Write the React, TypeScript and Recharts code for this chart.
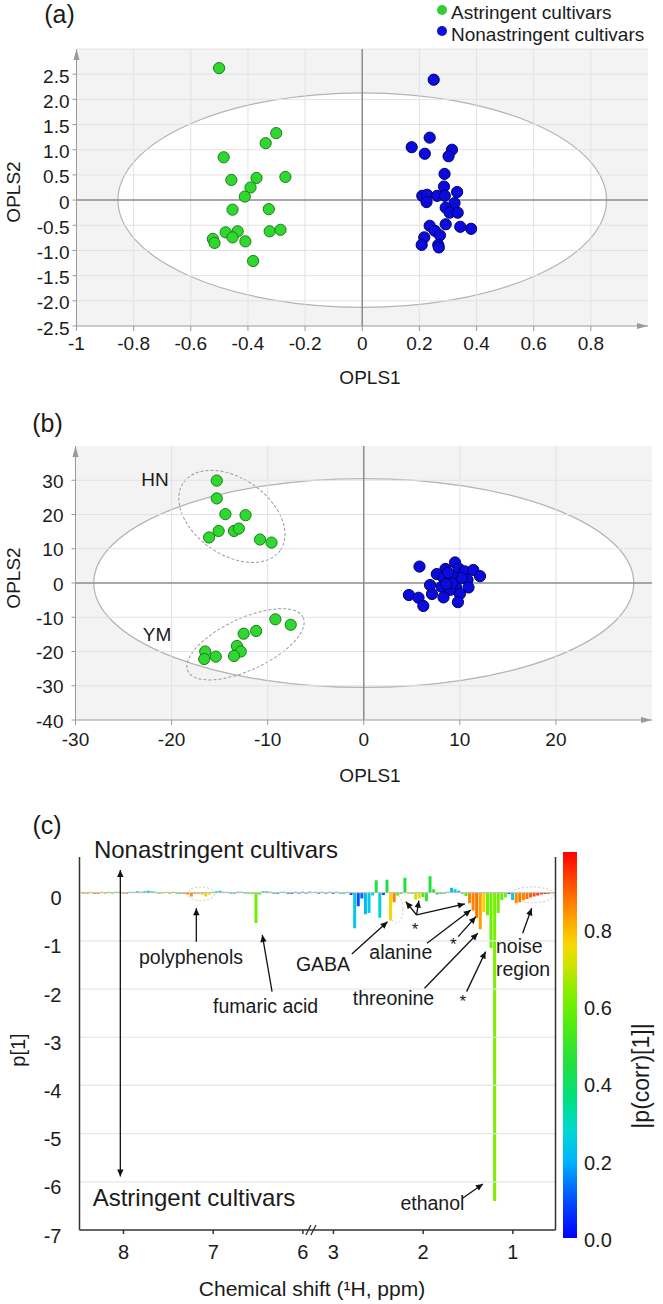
import React from "react";
import {
  Bar,
  BarChart,
  Cell,
  ReferenceArea,
  ReferenceDot,
  ReferenceLine,
  Scatter,
  ScatterChart,
  XAxis,
  YAxis,
} from "recharts";

const FONT = '"Liberation Sans", Arial, Helvetica, sans-serif';
const INK = "#1b1b1b";
const GREEN = "#2fd82f";
const GREEN_EDGE = "#1d7d1d";
const BLUE = "#0b0bdc";
const BLUE_EDGE = "#00006e";
const GRID = "#e2e2e2";
const PANEL_BG = "#f3f3f3";
const AXIS_GRAY = "#9a9a9a";
const ZERO_GRAY = "#8c8c8c";

// (a) OPLS-DA scores, all cultivars  [OPLS1, OPLS2]
const astringentA: [number, number][] = [
  [-0.501, 2.62], [-0.301, 1.33], [-0.338, 1.13], [-0.485, 0.85], [-0.458, 0.4],
  [-0.37, 0.44], [-0.269, 0.46], [-0.391, 0.25], [-0.411, 0.07], [-0.454, -0.19],
  [-0.327, -0.18], [-0.478, -0.64], [-0.436, -0.62], [-0.454, -0.74], [-0.324, -0.62],
  [-0.286, -0.59], [-0.523, -0.77], [-0.517, -0.85], [-0.409, -0.82], [-0.382, -1.21],
];
const nonastringentA: [number, number][] = [
  [0.25, 2.39], [0.236, 1.24], [0.173, 1.05], [0.219, 0.92], [0.314, 1.0],
  [0.302, 0.87], [0.288, 0.52], [0.286, 0.27], [0.332, 0.16], [0.21, 0.085],
  [0.227, 0.105], [0.262, 0.085], [0.289, 0.085], [0.225, -0.04], [0.323, -0.06],
  [0.292, -0.15], [0.306, -0.25], [0.334, -0.25], [0.236, -0.51], [0.292, -0.48],
  [0.254, -0.61], [0.272, -0.7], [0.343, -0.53], [0.381, -0.57], [0.217, -0.74],
  [0.208, -0.89], [0.266, -0.89], [0.268, -0.94],
];
const aXTicks = [-1, -0.8, -0.6, -0.4, -0.2, 0, 0.2, 0.4, 0.6, 0.8];
const aYTicks = [-2.5, -2, -1.5, -1, -0.5, 0, 0.5, 1, 1.5, 2, 2.5];
const aXDomain = [-1, 1];
const aYDomain = [-2.5, 3];
const aEllipse = { rx: 0.855, ry: 2.13 };

// (b) OPLS-DA scores with the two astringent groups
const hnGroupB: [number, number][] = [
  [-15.3, 29.9], [-15.3, 24.7], [-14.4, 20.1], [-12.3, 19.8], [-15.1, 15.2],
  [-16.1, 13.3], [-13.5, 15.2], [-13.0, 15.9], [-10.8, 12.7], [-9.6, 11.8],
];
const ymGroupB: [number, number][] = [
  [-9.2, -10.6], [-7.6, -12.2], [-11.2, -14.0], [-12.5, -14.8], [-13.2, -18.4],
  [-12.8, -20.0], [-16.5, -20.0], [-15.4, -21.5], [-13.5, -21.3], [-16.6, -22.2],
];
const nonastringentB: [number, number][] = [
  [5.8, 4.8], [9.5, 6.0], [8.5, 4.1], [7.6, 2.6], [9.9, 4.2], [10.5, 3.4],
  [11.4, 3.8], [12.1, 2.0], [9.4, 1.8], [10.8, 0.9], [8.3, 1.6], [6.9, -0.6],
  [8.1, -1.1], [9.6, -1.1], [10.9, -1.3], [9.0, -2.0], [7.1, -3.2], [10.0, -3.2],
  [4.7, -3.5], [5.7, -4.3], [8.3, -4.2], [6.2, -6.7], [9.8, -5.6], [9.2, -0.1],
  [8.8, 3.0], [10.2, 1.5], [8.6, -0.3],
];
const bXTicks = [-30, -20, -10, 0, 10, 20];
const bYTicks = [-40, -30, -20, -10, 0, 10, 20, 30];
const bXDomain = [-30, 30];
const bYDomain = [-40, 40];
const bEllipse = { rx: 28.1, ry: 30.5 };
const hnBox = { x: [-19.25, -8.2], y: [6.0, 32.9], angle: 35 };
const ymBox = { x: [-18.4, -6.2], y: [-28.3, -7.5], angle: -25 };

// (c) loadings p[1] coloured by |p(corr)[1]|
const aromaticShift = [
  8.44, 8.4, 8.36, 8.32, 8.28, 8.24, 8.2, 8.16, 8.12, 8.08, 8.04, 8.0, 7.96, 7.92, 7.88, 7.84,
  7.8, 7.76, 7.72, 7.68, 7.64, 7.6, 7.56, 7.52, 7.48, 7.44, 7.4, 7.36, 7.32, 7.28, 7.24, 7.2,
  7.16, 7.12, 7.08, 7.04, 7.0, 6.96, 6.92, 6.88, 6.84, 6.8, 6.76, 6.72, 6.68, 6.64, 6.6, 6.56,
  6.52, 6.48, 6.44, 6.4, 6.36, 6.32, 6.28, 6.24, 6.2, 6.16, 6.12, 6.08, 6.04, 6.0, 5.96, 5.92,
];
const aromaticLoading = [
  -0.02, -0.03, 0.02, -0.02, -0.03, 0.02, -0.02, 0.02, -0.02, 0.02, 0.02, -0.02, -0.02, 0.02, 0.02, 0.03,
  0.02, 0.03, 0.04, 0.03, 0.02, -0.02, -0.02, 0.02, -0.03, 0.02, -0.02, -0.02, -0.03, -0.04, -0.08, -0.03,
  -0.03, -0.04, -0.08, -0.04, 0.02, 0.03, 0.04, 0.02, 0.02, -0.02, -0.02, 0.02, 0.02, -0.02, -0.02, -0.03,
  -0.63, -0.04, 0.03, 0.03, 0.02, -0.02, -0.02, 0.02, 0.02, -0.02, -0.02, 0.02, -0.02, 0.02, -0.02, 0.02,
];
const aromaticCorr = [
  0.85, 0.8, 0.75, 0.9, 0.85, 0.7, 0.82, 0.55, 0.6, 0.35, 0.3, 0.85, 0.88, 0.6, 0.3, 0.25,
  0.45, 0.28, 0.22, 0.25, 0.3, 0.6, 0.78, 0.8, 0.8, 0.35, 0.5, 0.4, 0.85, 0.86, 0.85, 0.82,
  0.78, 0.8, 0.77, 0.75, 0.5, 0.35, 0.3, 0.45, 0.6, 0.3, 0.35, 0.2, 0.25, 0.55, 0.5, 0.6,
  0.6, 0.55, 0.35, 0.4, 0.25, 0.2, 0.15, 0.3, 0.3, 0.12, 0.1, 0.2, 0.2, 0.15, 0.3, 0.1,
];
const aliphaticShift = [
  3.2, 3.16, 3.12, 3.08, 3.04, 3.0, 2.96, 2.92, 2.88, 2.84, 2.8, 2.76, 2.72, 2.68, 2.64, 2.6,
  2.56, 2.52, 2.48, 2.44, 2.4, 2.36, 2.32, 2.28, 2.24, 2.2, 2.16, 2.12, 2.08, 2.04, 2.0, 1.96,
  1.92, 1.88, 1.84, 1.8, 1.76, 1.72, 1.68, 1.64, 1.6, 1.56, 1.52, 1.48, 1.44, 1.4, 1.36, 1.32,
  1.28, 1.24, 1.2, 1.16, 1.12, 1.08, 1.04, 1.0, 0.96, 0.92, 0.88, 0.84, 0.8, 0.76, 0.72, 0.68,
  0.64, 0.6, 0.56,
];
const aliphaticLoading = [
  0.02, -0.02, 0.02, -0.02, 0.02, -0.02, 0.02, -0.02, -0.02, 0.02, -0.05, -0.74, -0.28, -0.12, -0.45, -0.42,
  -0.06, 0.26, -0.52, -0.05, 0.27, -0.58, -0.2, -0.06, -0.02, 0.31, -0.03, -0.02, -0.14, -0.12, -0.09, -0.18,
  0.34, 0.07, -0.04, -0.03, -0.02, 0.02, 0.1, 0.07, 0.04, -0.02, -0.07, -0.22, -0.37, -0.52, -0.76, -0.4,
  -0.47, -1.15, -6.4, -0.42, -0.15, -0.1, -0.03, -0.15, -0.22, -0.2, -0.16, -0.13, -0.1, -0.08, -0.06, -0.04,
  -0.03, -0.02, -0.01,
];
const aliphaticCorr = [
  0.3, 0.15, 0.45, 0.2, 0.35, 0.1, 0.25, 0.4, 0.2, 0.3, 0.1, 0.25, 0.1, 0.12, 0.22, 0.25,
  0.3, 0.45, 0.27, 0.08, 0.45, 0.76, 0.86, 0.55, 0.4, 0.45, 0.75, 0.5, 0.7, 0.76, 0.55, 0.5,
  0.45, 0.5, 0.45, 0.5, 0.3, 0.25, 0.22, 0.25, 0.2, 0.4, 0.55, 0.86, 0.86, 0.88, 0.83, 0.77,
  0.6, 0.6, 0.62, 0.6, 0.58, 0.6, 0.1, 0.25, 0.85, 0.87, 0.86, 0.88, 0.9, 0.92, 0.94, 0.95,
  0.96, 0.97, 0.98,
];
const shiftTicks = [8, 7, 6, 3, 2, 1];
const loadingTicks = [-7, -6, -5, -4, -3, -2, -1, 0];
const corrTicks = [0, 0.2, 0.4, 0.6, 0.8];

// annotation pointers, [ppm, p[1]]
const pointers: { from: [number, number]; to: [number, number]; both?: boolean }[] = [
  { from: [7.188, -1.017], to: [7.188, -0.324] },
  { from: [6.344, -2.054], to: [6.453, -0.878] },
  { from: [2.795, -1.272], to: [2.397, -0.602] },
  { from: [1.958, -1.05], to: [1.469, -0.359] },
  { from: [2.073, -0.463], to: [2.193, -0.187] },
  { from: [2.073, -0.463], to: [2.048, -0.166] },
  { from: [2.073, -0.463], to: [1.535, -0.234] },
  { from: [1.609, -0.913], to: [1.412, -0.498] },
  { from: [1.985, -1.984], to: [1.391, -0.842] },
  { from: [1.516, -2.054], to: [1.304, -1.224] },
  { from: [0.891, -0.842], to: [0.791, -0.324] },
  { from: [1.561, -6.34], to: [1.334, -6.045] },
  { from: [8.035, 0.47], to: [8.035, -5.89], both: true },
];
const highlightAreas = [
  { x: [7.292, 6.984], y: [-0.166, 0.118] },
  { x: [2.37, 2.225], y: [-0.635, -0.048] },
  { x: [1.03, 0.54], y: [-0.21, 0.12] },
];

// broken shift axis: 8.49..5.9 then 3.24..0.525 ppm
const LEFT_START = 8.49;
const BREAK_HIGH = 5.9;
const BREAK_LOW = 3.24;
const RIGHT_END = 0.525;
const LEFT_SPAN = LEFT_START - BREAK_HIGH;
const POS_MAX = LEFT_SPAN + BREAK_LOW - RIGHT_END;
const toPos = (ppm: number) => (ppm >= 4.5 ? LEFT_START - ppm : LEFT_SPAN + BREAK_LOW - ppm);
const fromPos = (pos: number) =>
  pos <= LEFT_SPAN + 1e-6 ? LEFT_START - pos : BREAK_LOW - (pos - LEFT_SPAN);

const spectrumRows = [
  ...aromaticShift.map((s, i) => ({ pos: toPos(s), p: aromaticLoading[i], corr: aromaticCorr[i] })),
  ...aliphaticShift.map((s, i) => ({ pos: toPos(s), p: aliphaticLoading[i], corr: aliphaticCorr[i] })),
];

// colour scale for |p(corr)|
const jetStops: [number, string][] = [
  [0, "#0000ff"], [0.1, "#0050ff"], [0.2, "#00b4ff"], [0.28, "#00d8d0"], [0.36, "#00e080"],
  [0.45, "#20e040"], [0.55, "#50ec10"], [0.62, "#78f000"], [0.7, "#c8e400"], [0.76, "#f8d800"],
  [0.82, "#ffa800"], [0.9, "#ff6000"], [1, "#ff0000"],
];
const hex = (h: string) => [1, 3, 5].map((i) => parseInt(h.slice(i, i + 2), 16));
const jet = (v: number) => {
  const t = Math.max(0, Math.min(1, v));
  for (let i = 1; i < jetStops.length; i++) {
    const [t1, c1] = jetStops[i];
    const [t0, c0] = jetStops[i - 1];
    if (t <= t1) {
      const k = (t - t0) / (t1 - t0);
      const a = hex(c0);
      const b = hex(c1);
      return `rgb(${a.map((x, j) => Math.round(x + (b[j] - x) * k)).join(",")})`;
    }
  }
  return jetStops[jetStops.length - 1][1];
};

const toPts = (list: [number, number][]) => list.map(([x, y]) => ({ x, y }));

const dot = (fill: string, edge: string) => (props: any) => (
  <circle cx={props.cx} cy={props.cy} r={5.6} fill={fill} stroke={edge} strokeWidth={1} />
);

const ellipseShape =
  (opts: { fill?: string; stroke?: string; dash?: string; angle?: number; width?: number }) =>
  (props: any) => {
    const { x, y, width, height } = props;
    const cx = x + width / 2;
    const cy = y + height / 2;
    const hw = Math.abs(width) / 2;
    const hh = Math.abs(height) / 2;
    const ang = opts.angle ?? 0;
    const t = (ang * Math.PI) / 180;
    const c2 = Math.cos(t) ** 2;
    const s2 = Math.sin(t) ** 2;
    const rx = Math.sqrt(Math.max(1, (hw * hw * c2 - hh * hh * s2) / (c2 - s2)));
    const ry = Math.sqrt(Math.max(1, (hh * hh * c2 - hw * hw * s2) / (c2 - s2)));
    return (
      <ellipse
        cx={cx}
        cy={cy}
        rx={rx}
        ry={ry}
        transform={`rotate(${ang} ${cx} ${cy})`}
        fill={opts.fill ?? "none"}
        stroke={opts.stroke ?? "none"}
        strokeWidth={opts.width ?? 1.2}
        strokeDasharray={opts.dash}
      />
    );
  };

const headPoints = (xa: number, ya: number, xb: number, yb: number) => {
  const ang = Math.atan2(yb - ya, xb - xa);
  const L = 7;
  const W = 3.2;
  const bx = xb - L * Math.cos(ang);
  const by = yb - L * Math.sin(ang);
  const px = -Math.sin(ang) * W;
  const py = Math.cos(ang) * W;
  return `${xb},${yb} ${bx + px},${by + py} ${bx - px},${by - py}`;
};

const arrowShape = (both: boolean) => (props: any) => {
  const { x1, y1, x2, y2 } = props;
  return (
    <g>
      <line x1={x1} y1={y1} x2={x2} y2={y2} stroke="#111" strokeWidth={1.3} />
      <polygon points={headPoints(x1, y1, x2, y2)} fill="#111" />
      {both && <polygon points={headPoints(x2, y2, x1, y1)} fill="#111" />}
    </g>
  );
};

const axisArrow = (dir: "up" | "right", color: string) => (props: any) => {
  const { cx, cy } = props;
  const pts =
    dir === "up"
      ? `${cx},${cy} ${cx - 3},${cy + 11} ${cx + 3},${cy + 11}`
      : `${cx},${cy} ${cx - 11},${cy - 3} ${cx - 11},${cy + 3}`;
  return <polygon points={pts} fill={color} />;
};

const breakMark = (props: any) => {
  const { cx, cy } = props;
  return (
    <g stroke="#333" strokeWidth={1.3}>
      <line x1={cx - 6} y1={cy + 5} x2={cx - 1} y2={cy - 5} />
      <line x1={cx - 1} y1={cy + 5} x2={cx + 4} y2={cy - 5} />
    </g>
  );
};

const tickText =
  (fmt: (v: number) => string, dx: number, dy: number, anchor: "start" | "middle" | "end", size = 19) =>
  (props: any) => (
    <text
      x={props.x + dx}
      y={props.y + dy}
      textAnchor={anchor}
      dominantBaseline="central"
      fontSize={size}
      fontFamily={FONT}
      fill={INK}
    >
      {fmt(props.payload.value)}
    </text>
  );

const Txt = ({
  x,
  y,
  size = 19,
  rotate = false,
  left = false,
  children,
}: {
  x: number;
  y: number;
  size?: number;
  rotate?: boolean;
  left?: boolean;
  children: React.ReactNode;
}) => (
  <div
    style={{
      position: "absolute",
      left: x,
      top: y,
      transform: `translate(${left ? "0" : "-50%"}, -50%)${rotate ? " rotate(-90deg)" : ""}`,
      fontSize: size,
      lineHeight: 1,
      fontFamily: FONT,
      color: INK,
      whiteSpace: "nowrap",
    }}
  >
    {children}
  </div>
);

const fmtA_x = (v: number) => (v === 0 ? "0" : String(v));
const fmtA_y = (v: number) => (v === 0 ? "0" : v.toFixed(1));
const fmtInt = (v: number) => String(v);

const PanelA = () => (
  <ScatterChart width={663} height={400} margin={{ top: 49, right: 15, left: 6.5, bottom: 44 }}>
    <XAxis
      type="number"
      dataKey="x"
      domain={aXDomain}
      ticks={aXTicks}
      interval={0}
      allowDataOverflow
      height={30}
      stroke={AXIS_GRAY}
      tickSize={5}
      tickMargin={0}
      tick={tickText(fmtA_x, 0, 12.3, "middle")}
    />
    <YAxis
      type="number"
      dataKey="y"
      domain={aYDomain}
      ticks={aYTicks}
      interval={0}
      allowDataOverflow
      width={70}
      stroke={AXIS_GRAY}
      tickSize={4}
      tickMargin={3}
      tick={tickText(fmtA_y, 0, 2, "end")}
    />
    <ReferenceArea x1={-1} x2={1} y1={-2.5} y2={3} fill={PANEL_BG} fillOpacity={1} stroke="none" />
    <ReferenceArea
      x1={-aEllipse.rx}
      x2={aEllipse.rx}
      y1={-aEllipse.ry}
      y2={aEllipse.ry}
      shape={ellipseShape({ fill: "#ffffff" })}
    />
    {aXTicks.filter((v) => v !== 0 && v !== -1).map((v) => (
      <ReferenceLine key={`ax${v}`} x={v} stroke={GRID} strokeWidth={1} />
    ))}
    {aYTicks.filter((v) => v !== 0 && v !== -2.5).map((v) => (
      <ReferenceLine key={`ay${v}`} y={v} stroke={GRID} strokeWidth={1} />
    ))}
    <ReferenceLine y={3} stroke={GRID} />
    <ReferenceArea
      x1={-aEllipse.rx}
      x2={aEllipse.rx}
      y1={-aEllipse.ry}
      y2={aEllipse.ry}
      shape={ellipseShape({ stroke: "#b3b3b3" })}
    />
    <ReferenceLine x={0} stroke={ZERO_GRAY} strokeWidth={1.5} />
    <ReferenceLine y={0} stroke={ZERO_GRAY} strokeWidth={1.5} />
    <Scatter data={toPts(astringentA)} shape={dot(GREEN, GREEN_EDGE)} isAnimationActive={false} />
    <Scatter data={toPts(nonastringentA)} shape={dot(BLUE, BLUE_EDGE)} isAnimationActive={false} />
    <ReferenceDot x={-1} y={3} ifOverflow="visible" shape={axisArrow("up", AXIS_GRAY)} />
    <ReferenceDot x={1} y={-2.5} ifOverflow="visible" shape={axisArrow("right", AXIS_GRAY)} />
  </ScatterChart>
);

const PanelB = () => (
  <ScatterChart width={663} height={400} margin={{ top: 46, right: 11, left: 5.5, bottom: 50 }}>
    <XAxis
      type="number"
      dataKey="x"
      domain={bXDomain}
      ticks={bXTicks}
      interval={0}
      allowDataOverflow
      height={30}
      stroke={AXIS_GRAY}
      tickSize={5}
      tickMargin={0}
      tick={tickText(fmtInt, 0, 14, "middle")}
    />
    <YAxis
      type="number"
      dataKey="y"
      domain={bYDomain}
      ticks={bYTicks}
      interval={0}
      allowDataOverflow
      width={70}
      stroke={AXIS_GRAY}
      tickSize={4}
      tickMargin={8}
      tick={tickText(fmtInt, 0, 1, "end")}
    />
    <ReferenceArea x1={-30} x2={30} y1={-40} y2={40} fill={PANEL_BG} fillOpacity={1} stroke="none" />
    <ReferenceArea
      x1={-bEllipse.rx}
      x2={bEllipse.rx}
      y1={-bEllipse.ry}
      y2={bEllipse.ry}
      shape={ellipseShape({ fill: "#ffffff" })}
    />
    {bXTicks.filter((v) => v !== 0 && v !== -30).map((v) => (
      <ReferenceLine key={`bx${v}`} x={v} stroke={GRID} />
    ))}
    {bYTicks.filter((v) => v !== 0 && v !== -40).map((v) => (
      <ReferenceLine key={`by${v}`} y={v} stroke={GRID} />
    ))}
    <ReferenceArea
      x1={-bEllipse.rx}
      x2={bEllipse.rx}
      y1={-bEllipse.ry}
      y2={bEllipse.ry}
      shape={ellipseShape({ stroke: "#b3b3b3" })}
    />
    <ReferenceLine x={0} stroke={ZERO_GRAY} strokeWidth={1.5} />
    <ReferenceLine y={0} stroke={ZERO_GRAY} strokeWidth={1.5} />
    {[hnBox, ymBox].map((b, i) => (
      <ReferenceArea
        key={`grp${i}`}
        x1={b.x[0]}
        x2={b.x[1]}
        y1={b.y[0]}
        y2={b.y[1]}
        shape={ellipseShape({ stroke: "#9a9a9a", dash: "3 2", angle: b.angle, width: 1 })}
      />
    ))}
    <Scatter data={toPts(hnGroupB)} shape={dot(GREEN, GREEN_EDGE)} isAnimationActive={false} />
    <Scatter data={toPts(ymGroupB)} shape={dot(GREEN, GREEN_EDGE)} isAnimationActive={false} />
    <Scatter data={toPts(nonastringentB)} shape={dot(BLUE, BLUE_EDGE)} isAnimationActive={false} />
    <ReferenceDot x={-30} y={40} ifOverflow="visible" shape={axisArrow("up", AXIS_GRAY)} />
    <ReferenceDot x={30} y={-40} ifOverflow="visible" shape={axisArrow("right", AXIS_GRAY)} />
  </ScatterChart>
);

const PanelC = () => (
  <BarChart
    width={663}
    height={504}
    data={spectrumRows}
    margin={{ top: 57, right: 107.5, left: 9.5, bottom: 44 }}
  >
    <XAxis
      type="number"
      dataKey="pos"
      domain={[0, POS_MAX]}
      ticks={shiftTicks.map(toPos)}
      interval={0}
      allowDataOverflow
      height={30}
      stroke="#333"
      strokeWidth={1.5}
      tickSize={4}
      tickMargin={0}
      tick={tickText((v) => String(Math.round(fromPos(v))), 0, 17.7, "middle", 20)}
    />
    <YAxis
      type="number"
      domain={[-7, 0.74]}
      ticks={loadingTicks}
      interval={0}
      allowDataOverflow
      width={70}
      stroke="#333"
      strokeWidth={1.5}
      tickLine={false}
      tickSize={0}
      tickMargin={18}
      tick={tickText(fmtInt, 0, 5.5, "end", 20)}
    />
    {loadingTicks.filter((v) => v !== 0 && v !== -7).map((v) => (
      <ReferenceLine key={`cy${v}`} y={v} stroke="#e6e6e6" strokeWidth={1.2} />
    ))}
    <ReferenceLine y={0} stroke="#bdbdbd" strokeWidth={1} />
    <ReferenceLine x={POS_MAX} stroke="#333" strokeWidth={1.5} />
    {highlightAreas.map((h, i) => (
      <ReferenceArea
        key={`hl${i}`}
        x1={toPos(h.x[0])}
        x2={toPos(h.x[1])}
        y1={h.y[0]}
        y2={h.y[1]}
        ifOverflow="visible"
        shape={ellipseShape({ stroke: "#c9c9c9", dash: "2 2", width: 1 })}
      />
    ))}
    <Bar dataKey="p" barSize={3} isAnimationActive={false}>
      {spectrumRows.map((r, i) => (
        <Cell key={i} fill={jet(r.corr)} />
      ))}
    </Bar>
    {pointers.map((a, i) => (
      <ReferenceLine
        key={`ptr${i}`}
        ifOverflow="visible"
        segment={[
          { x: toPos(a.from[0]), y: a.from[1] },
          { x: toPos(a.to[0]), y: a.to[1] },
        ]}
        shape={arrowShape(!!a.both)}
      />
    ))}
    <ReferenceDot x={LEFT_SPAN} y={-7} ifOverflow="visible" shape={breakMark} />
  </BarChart>
);

const ColorBar = () => (
  <svg width={14} height={386} style={{ position: "absolute", left: 563, top: 852 }}>
    <defs>
      <linearGradient id="corrScale" x1="0" y1="1" x2="0" y2="0">
        {jetStops.map(([t, c]) => (
          <stop key={t} offset={`${t * 100}%`} stopColor={c} />
        ))}
      </linearGradient>
    </defs>
    <rect x={0} y={0} width={14} height={386} fill="url(#corrScale)" />
  </svg>
);

export default function App() {
  return (
    <div
      style={{
        position: "absolute",
        left: 0,
        top: 0,
        width: 663,
        height: 1304,
        background: "#fff",
        overflow: "hidden",
        fontFamily: FONT,
      }}
    >
      <div style={{ position: "absolute", left: 0, top: 0 }}>
        <PanelA />
      </div>
      <div style={{ position: "absolute", left: 0, top: 400 }}>
        <PanelB />
      </div>
      <div style={{ position: "absolute", left: 0, top: 800 }}>
        <PanelC />
      </div>
      <ColorBar />

      {/* panel (a) text */}
      <Txt x={59.5} y={14} size={25}>(a)</Txt>
      <div style={{ position: "absolute", left: 437, top: 4.5, width: 10, height: 10, borderRadius: 5, background: "#33cc33" }} />
      <div style={{ position: "absolute", left: 437, top: 26, width: 10, height: 10, borderRadius: 5, background: "#1010d8" }} />
      <Txt x={451} y={12.3} size={19} left>Astringent cultivars</Txt>
      <Txt x={451} y={34.3} size={19} left>Nonastringent cultivars</Txt>
      <Txt x={370} y={376.7} size={19}>OPLS1</Txt>
      <Txt x={12.5} y={192} size={19} rotate>OPLS2</Txt>

      {/* panel (b) text */}
      <Txt x={47.5} y={423} size={25}>(b)</Txt>
      <Txt x={155} y={479.3} size={19}>HN</Txt>
      <Txt x={157} y={634} size={19}>YM</Txt>
      <Txt x={370} y={775} size={19}>OPLS1</Txt>
      <Txt x={12.5} y={578} size={19} rotate>OPLS2</Txt>

      {/* panel (c) text */}
      <Txt x={47} y={825} size={25}>(c)</Txt>
      <Txt x={216} y={850} size={24}>Nonastringent cultivars</Txt>
      <Txt x={194} y={1198} size={24}>Astringent cultivars</Txt>
      <Txt x={18} y={1050} size={20} rotate>p[1]</Txt>
      <Txt x={312} y={1288} size={21}>Chemical shift (¹H, ppm)</Txt>
      <Txt x={191} y={958} size={19.5}>polyphenols</Txt>
      <Txt x={265.6} y={1006.7} size={19.5}>fumaric acid</Txt>
      <Txt x={323} y={965} size={19.5}>GABA</Txt>
      <Txt x={400.8} y={953.3} size={19.5}>alanine</Txt>
      <Txt x={393.5} y={999.3} size={19.5}>threonine</Txt>
      <Txt x={496} y={946.5} size={19.5} left>noise</Txt>
      <Txt x={496} y={969.5} size={19.5} left>region</Txt>
      <Txt x={432.4} y={1204} size={19.5}>ethanol</Txt>
      <Txt x={415} y={929} size={17}>*</Txt>
      <Txt x={453.3} y={944} size={17}>*</Txt>
      <Txt x={462.7} y={1001} size={17}>*</Txt>
      {corrTicks.map((v) => (
        <Txt key={v} x={584} y={1240 - v * 386.5} size={20} left>
          {v.toFixed(1)}
        </Txt>
      ))}
      <Txt x={641} y={1076} size={23} rotate>|p(corr)[1]|</Txt>
    </div>
  );
}
